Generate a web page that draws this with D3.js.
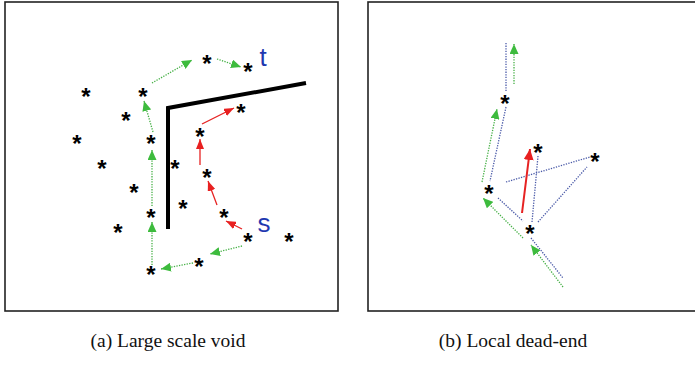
<!DOCTYPE html>
<html>
<head>
<meta charset="utf-8">
<script src="https://cdn.jsdelivr.net/npm/d3@7"></script>
<style>
  body { margin: 0; background: #fff; }
  svg { display: block; }
</style>
</head>
<body>
<div id="chart"></div>
<script>
const width = 695;
const height = 377;

// panel (a): node positions, local to the panel frame
const nodesA = [
  [81, 90], [138, 90], [202, 57], [243, 65], [121, 114], [72, 137], [146, 137],
  [195, 130], [236, 106], [97, 162], [170, 162], [202, 171], [129, 186],
  [146, 211], [178, 202], [219, 211], [113, 226], [243, 235], [284, 235],
  [194, 260], [146, 268]
];
const wallA = [[163, 227], [163, 106], [301, 81]];
const greenA = [
  [237, 244, 205, 252], [188, 261, 156, 267], [147, 263, 147, 220],
  [147, 204, 147, 148], [148, 130, 139, 99], [147, 81, 187, 58], [212, 57, 236, 65]
];
const redA = [
  [237, 227, 221, 219], [212, 203, 203, 179], [195, 163, 195, 137], [197, 122, 229, 106]
];
const labelsA = [{ text: "t", x: 258, y: 55 }, { text: "s", x: 259, y: 221 }];

// panel (b)
const nodesB = [[137, 97], [170, 146], [227, 155], [121, 187], [162, 227]];
const blueB = [
  [138, 41, 138, 90], [138, 105, 122, 179], [130, 196, 155, 219],
  [138, 180, 222, 155], [170, 220, 219, 165], [164, 220, 170, 154], [163, 236, 195, 276]
];
const greenB = [
  [195, 285, 163, 243], [155, 236, 115, 196], [114, 180, 129, 107], [146, 82, 146, 42]
];
const redB = [[154, 211, 162, 147]];

const captions = [
  { text: "(a) Large scale void", cx: 168 },
  { text: "(b) Local dead-end", cx: 513 }
];

const panels = [
  { x: 5, y: 2, w: 333, h: 309 },
  { x: 368, y: 2, w: 330, h: 309 }
];

const svg = d3.select("#chart")
  .append("svg")
  .attr("width", width)
  .attr("height", height);

const defs = svg.append("defs");
function marker(id, color, len, wid) {
  defs.append("marker")
    .attr("id", id)
    .attr("markerUnits", "userSpaceOnUse")
    .attr("viewBox", `0 0 ${len} ${wid}`)
    .attr("refX", len)
    .attr("refY", wid / 2)
    .attr("markerWidth", len)
    .attr("markerHeight", wid)
    .attr("orient", "auto")
    .append("path")
    .attr("d", `M0,0L${len},${wid / 2}L0,${wid}Z`)
    .attr("fill", color);
}
marker("arrG", "#3dbb3d", 10, 9);
marker("arrR", "#e82020", 10, 8);
marker("arrR2", "#e82020", 11, 10);

const green = "#45b045";
const blue = "#4a5aa8";
const red = "#e62222";

function drawPanel(p, opts) {
  const x = d3.scaleLinear().domain([0, p.w]).range([p.x, p.x + p.w]);
  const y = d3.scaleLinear().domain([0, p.h]).range([p.y, p.y + p.h]);
  const g = svg.append("g");

  g.append("rect")
    .attr("x", p.x).attr("y", p.y)
    .attr("width", p.w).attr("height", p.h)
    .attr("fill", "#fff")
    .attr("stroke", "#222")
    .attr("stroke-width", 1.6);

  const seg = (sel, data) => sel.selectAll(null).data(data).join("line")
    .attr("x1", d => x(d[0])).attr("y1", d => y(d[1]))
    .attr("x2", d => x(d[2])).attr("y2", d => y(d[3]));

  if (opts.wall) {
    g.append("path")
      .datum(opts.wall)
      .attr("d", d3.line().x(d => x(d[0])).y(d => y(d[1])))
      .attr("fill", "none")
      .attr("stroke", "#000")
      .attr("stroke-width", 4);
  }
  if (opts.blue) {
    seg(g, opts.blue)
      .attr("stroke", blue)
      .attr("stroke-width", 1.3)
      .attr("stroke-dasharray", "1.3,1.3");
  }
  seg(g, opts.green)
    .attr("stroke", green)
    .attr("stroke-width", 1.3)
    .attr("stroke-dasharray", "1.3,1.3")
    .attr("marker-end", "url(#arrG)");
  seg(g, opts.red)
    .attr("stroke", red)
    .attr("stroke-width", opts.redWidth)
    .attr("marker-end", opts.redWidth > 1.5 ? "url(#arrR2)" : "url(#arrR)");

  g.selectAll(null).data(opts.nodes).join("text")
    .attr("x", d => x(d[0]))
    .attr("y", d => y(d[1]) + 13)
    .attr("text-anchor", "middle")
    .style("font-family", "'Liberation Sans', Arial, sans-serif")
    .style("font-size", "24px")
    .style("font-weight", "bold")
    .attr("fill", "#000")
    .text("*");

  if (opts.labels) {
    g.selectAll(null).data(opts.labels).join("text")
      .attr("x", d => x(d.x))
      .attr("y", d => y(d.y) + 9)
      .attr("text-anchor", "middle")
      .style("font-family", "'Liberation Sans', Arial, sans-serif")
      .style("font-size", "26px")
      .attr("fill", "#1f38b0")
      .text(d => d.text);
  }
}

drawPanel(panels[0], { nodes: nodesA, wall: wallA, green: greenA, red: redA, labels: labelsA, redWidth: 1.3 });
drawPanel(panels[1], { nodes: nodesB, blue: blueB, green: greenB, red: redB, redWidth: 2 });

// captions
svg.selectAll("text.cap").data(captions).join("text")
  .attr("class", "cap")
  .attr("x", d => d.cx)
  .attr("y", 347)
  .attr("text-anchor", "middle")
  .style("font-family", "'Liberation Serif', 'Times New Roman', serif")
  .style("font-size", "19.5px")
  .attr("fill", "#111")
  .text(d => d.text);
</script>
</body>
</html>
